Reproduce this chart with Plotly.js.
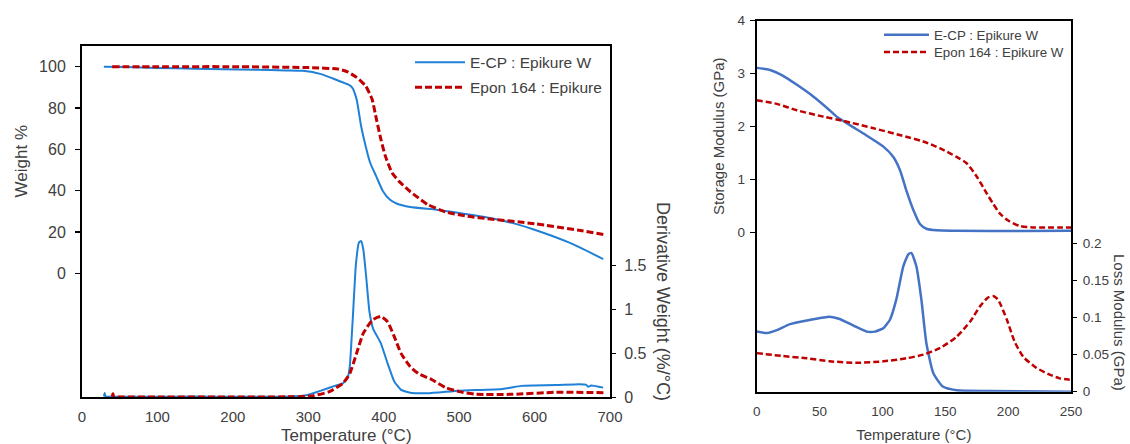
<!DOCTYPE html>
<html>
<head>
<meta charset="utf-8">
<script src="https://cdn.plot.ly/plotly-3.0.1.min.js"></script>
<style>html,body{margin:0;padding:0;background:#fff;}#chart{width:1130px;height:444px;}</style>
</head>
<body>
<div id="chart"></div>
<script>
// ---------- TGA (left panel) ----------
const tgaTempEcp   = [29, 60, 100, 150, 187, 230, 270, 293, 317, 340, 352, 358, 364, 370, 376, 382, 390, 399, 408, 417, 435, 470, 500, 541, 570, 600, 647, 691];
const tgaWeightEcp = [100, 99.8, 99.4, 99.0, 98.7, 98.5, 98.2, 98.0, 96.4, 93.2, 91.5, 90, 84.3, 71.3, 61.6, 53.5, 47, 39.7, 35.7, 33.8, 32.1, 30.8, 29.2, 26.8, 24.4, 21.1, 14.7, 6.9];

const tgaTempEpon   = [40, 100, 200, 305, 340, 352, 364, 376, 384.5, 390.4, 396.3, 402.2, 411, 420, 434.6, 458.2, 481.8, 511.3, 541, 600, 659, 693];
const tgaWeightEpon = [100, 100, 100, 99.5, 98.8, 97.5, 94.8, 90.7, 84.3, 74.5, 64.8, 56.7, 48.7, 44.6, 39.7, 33.3, 29.7, 27.6, 26.3, 24, 20.8, 18.7];

const dtgTempEcp  = [29, 30, 31, 33, 60, 100, 150, 200, 250, 275, 299, 317, 335, 346, 352, 355, 359, 363, 367, 370, 373, 377, 381, 386, 396, 405, 414, 423, 435, 458, 500, 558, 582, 600, 629, 659, 668, 671, 675, 679, 685, 691];
const dtgDerivEcp = [0.01, 0.05, 0.01, 0.008, 0.006, 0.006, 0.008, 0.005, 0.006, 0.008, 0.027, 0.076, 0.13, 0.16, 0.22, 0.35, 0.9, 1.5, 1.76, 1.78, 1.68, 1.35, 0.98, 0.78, 0.62, 0.39, 0.18, 0.084, 0.053, 0.046, 0.076, 0.095, 0.13, 0.135, 0.14, 0.15, 0.145, 0.12, 0.135, 0.13, 0.12, 0.11];

const dtgTempEpon  = [40, 41, 42, 45, 100, 200, 280, 305, 328, 346, 355, 364, 373, 385, 396, 405, 414, 423, 435, 446, 464, 482, 500, 523, 570, 629, 693];
const dtgDerivEpon = [0.008, 0.04, 0.008, 0.005, 0.004, 0.004, 0.006, 0.015, 0.065, 0.16, 0.27, 0.50, 0.73, 0.88, 0.92, 0.86, 0.69, 0.50, 0.35, 0.27, 0.20, 0.11, 0.065, 0.034, 0.034, 0.057, 0.053];

// ---------- DMA (right panel) ----------
const dmaTempStorEcp = [0, 10.6, 21, 32, 45, 58, 63.6, 74, 87, 101, 108.7, 114, 119, 124.6, 130, 135, 143, 159, 212, 250];
const storageEcp     = [3.11, 3.07, 2.96, 2.79, 2.57, 2.31, 2.19, 2.03, 1.84, 1.62, 1.43, 1.18, 0.80, 0.43, 0.16, 0.075, 0.044, 0.038, 0.031, 0.038];

const dmaTempStorEpon = [0, 16, 32, 53, 69, 93, 119, 132.5, 146, 159, 167, 175, 183, 188, 193.5, 200, 209, 220, 250];
const storageEpon     = [2.50, 2.43, 2.31, 2.19, 2.11, 1.97, 1.81, 1.72, 1.59, 1.43, 1.31, 1.06, 0.74, 0.55, 0.36, 0.23, 0.13, 0.10, 0.10];

const dmaTempLossEcp = [0, 8, 16, 26.5, 40, 53, 58, 66, 77, 87.5, 94, 101, 106, 111, 116.6, 120.6, 123, 127, 131, 135, 140.5, 148, 159, 185.5, 250];
const lossEcp        = [0.081, 0.079, 0.083, 0.091, 0.096, 0.100, 0.101, 0.098, 0.089, 0.081, 0.081, 0.086, 0.097, 0.124, 0.169, 0.185, 0.187, 0.169, 0.124, 0.065, 0.025, 0.007, 0.002, 0.001, 0.0];

const dmaTempLossEpon = [0, 21, 40, 58, 79.5, 101, 119, 132.5, 146, 159, 170, 177.6, 184, 188, 192, 199, 205, 212, 222.6, 233, 241, 249];
const lossEpon        = [0.052, 0.048, 0.045, 0.041, 0.039, 0.041, 0.045, 0.050, 0.059, 0.074, 0.095, 0.115, 0.127, 0.129, 0.124, 0.097, 0.068, 0.047, 0.032, 0.023, 0.018, 0.016];

// ---------- labels ----------
const nameEcp = "E-CP : Epikure W";
const nameEponLeft = "Epon 164 : Epikure";
const nameEponRight = "Epon 164 : Epikure W";
const tgaXTicks = [0, 100, 200, 300, 400, 500, 600, 700];
const tgaWeightTicks = [0, 20, 40, 60, 80, 100];
const tgaDerivTicks = [0, 0.5, 1, 1.5];
const dmaXTicks = [0, 50, 100, 150, 200, 250];
const dmaStorageTicks = [0, 1, 2, 3, 4];
const dmaLossTicks = [0, 0.05, 0.1, 0.15, 0.2];

const FONT = "Liberation Sans, Arial, sans-serif";
const TXT = "#404040";
const blueL = "#1f80d8", blueR = "#4472c4", red = "#c00000";

const W = 1130, H = 444;
const px = v => v / W, py = v => (H - v) / H;

const traces = [
  {x: tgaTempEcp, y: tgaWeightEcp, xaxis: 'x', yaxis: 'y', name: nameEcp, legend: 'legend', type: 'scatter', mode: 'lines',
   line: {color: blueL, width: 2, shape: 'spline', smoothing: 0.5}},
  {x: tgaTempEpon, y: tgaWeightEpon, xaxis: 'x', yaxis: 'y', name: nameEponLeft, legend: 'legend2', type: 'scatter', mode: 'lines',
   line: {color: red, width: 3, dash: '7px,3px', shape: 'spline', smoothing: 0.5}},
  {x: dtgTempEcp, y: dtgDerivEcp, xaxis: 'x', yaxis: 'y2', showlegend: false, type: 'scatter', mode: 'lines',
   line: {color: blueL, width: 2, shape: 'spline', smoothing: 0.4}},
  {x: dtgTempEpon, y: dtgDerivEpon, xaxis: 'x', yaxis: 'y2', showlegend: false, type: 'scatter', mode: 'lines',
   line: {color: red, width: 3, dash: '7px,3px', shape: 'spline', smoothing: 0.5}},
  {x: dmaTempStorEcp, y: storageEcp, xaxis: 'x2', yaxis: 'y3', name: nameEcp, legend: 'legend3', type: 'scatter', mode: 'lines',
   line: {color: blueR, width: 2.5, shape: 'spline', smoothing: 0.6}},
  {x: dmaTempStorEpon, y: storageEpon, xaxis: 'x2', yaxis: 'y3', name: nameEponRight, legend: 'legend4', type: 'scatter', mode: 'lines',
   line: {color: red, width: 2.5, dash: '6px,3px', shape: 'spline', smoothing: 0.8}},
  {x: dmaTempLossEcp, y: lossEcp, xaxis: 'x2', yaxis: 'y4', showlegend: false, type: 'scatter', mode: 'lines',
   line: {color: blueR, width: 2.5, shape: 'spline', smoothing: 0.5}},
  {x: dmaTempLossEpon, y: lossEpon, xaxis: 'x2', yaxis: 'y4', showlegend: false, type: 'scatter', mode: 'lines',
   line: {color: red, width: 2.5, dash: '6px,3px', shape: 'spline', smoothing: 0.6}}
];

const legendBase = (x, y, size, iw) => ({
  x: px(x), y: py(y), xanchor: 'left', yanchor: 'middle', bgcolor: 'rgba(0,0,0,0)', borderwidth: 0,
  font: {family: FONT, size: size, color: TXT}, itemwidth: iw, tracegroupgap: 0
});

const layout = {
  width: W, height: H,
  margin: {l: 0, r: 0, t: 0, b: 0},
  paper_bgcolor: '#fff', plot_bgcolor: '#fff',
  font: {family: FONT, color: TXT},
  xaxis: {domain: [px(82), px(610)], range: [0, 700], tickvals: tgaXTicks, ticks: '', showgrid: false, zeroline: false,
          showline: true, linecolor: '#000', linewidth: 2, mirror: true, anchor: 'y', ticklabelstandoff: 5,
          tickfont: {family: FONT, size: 15, color: TXT}},
  yaxis: {domain: [py(397.3), py(46)], range: [-60, 110], tickvals: tgaWeightTicks, ticks: 'outside', ticklen: 5, tickwidth: 1.5, tickcolor: '#000',
          showgrid: false, zeroline: false, showline: true, linecolor: '#000', linewidth: 2, mirror: true, anchor: 'x', ticklabelstandoff: 6,
          tickfont: {family: FONT, size: 16, color: TXT}},
  yaxis2: {overlaying: 'y', side: 'right', anchor: 'x', range: [0, 4], tickvals: tgaDerivTicks, ticktext: ['0', '0.5', '1', '1.5'],
          ticks: 'outside', ticklen: 5, tickwidth: 1.5, tickcolor: '#000', showgrid: false, zeroline: false, showline: false, ticklabelstandoff: 5,
          tickfont: {family: FONT, size: 16, color: TXT}},
  xaxis2: {domain: [px(756.7), px(1071)], range: [0, 250], tickvals: dmaXTicks, ticks: '', showgrid: false, zeroline: false,
          showline: true, linecolor: '#000', linewidth: 2, mirror: true, anchor: 'y3', ticklabelstandoff: 6,
          tickfont: {family: FONT, size: 13.5, color: TXT},
          title: {text: 'Temperature (°C)', font: {family: FONT, size: 15, color: TXT}, standoff: 12}},
  yaxis3: {domain: [py(391.7), py(20.7)], range: [-3, 4], tickvals: dmaStorageTicks, ticks: 'outside', ticklen: 5, tickwidth: 1.5, tickcolor: '#000',
          showgrid: false, zeroline: false, showline: true, linecolor: '#000', linewidth: 2, mirror: true, anchor: 'x2', ticklabelstandoff: 2,
          tickfont: {family: FONT, size: 13.5, color: TXT}},
  yaxis4: {overlaying: 'y3', side: 'right', anchor: 'x2', range: [0, 0.5], tickvals: dmaLossTicks, ticktext: ['0', '0.05', '0.1', '0.15', '0.2'],
          ticks: 'outside', ticklen: 5, tickwidth: 1.5, tickcolor: '#000', showgrid: false, zeroline: false, showline: false, ticklabelstandoff: 3,
          tickfont: {family: FONT, size: 13.5, color: TXT}},
  legend: legendBase(410, 62.7, 15.5, 50),
  legend2: legendBase(410, 87.7, 15.5, 50),
  legend3: legendBase(879, 35, 13.3, 45),
  legend4: legendBase(879, 52.3, 13.3, 45),
  annotations: [
    {text: 'Temperature (°C)', xref: 'paper', yref: 'paper', x: px(346), y: py(435.5), xanchor: 'center', yanchor: 'middle',
     showarrow: false, font: {family: FONT, size: 17, color: TXT}},
    {text: 'Weight %', xref: 'paper', yref: 'paper', x: px(21.7), y: py(161.7), xanchor: 'center', yanchor: 'middle',
     textangle: -90, showarrow: false, font: {family: FONT, size: 17, color: TXT}},
    {text: 'Derivative Weight (%/°C)', xref: 'paper', yref: 'paper', x: px(663), y: py(301), xanchor: 'center', yanchor: 'middle',
     textangle: 90, showarrow: false, font: {family: FONT, size: 18, color: TXT}},
    {text: 'Storage Modulus (GPa)', xref: 'paper', yref: 'paper', x: px(718), y: py(136), xanchor: 'center', yanchor: 'middle',
     textangle: -90, showarrow: false, font: {family: FONT, size: 15, color: TXT}},
    {text: 'Loss Modulus (GPa)', xref: 'paper', yref: 'paper', x: px(1119), y: py(322), xanchor: 'center', yanchor: 'middle',
     textangle: 90, showarrow: false, font: {family: FONT, size: 15, color: TXT}}
  ],
  showlegend: true
};

Plotly.newPlot('chart', traces, layout, {staticPlot: true, displayModeBar: false});
</script>
</body>
</html>
